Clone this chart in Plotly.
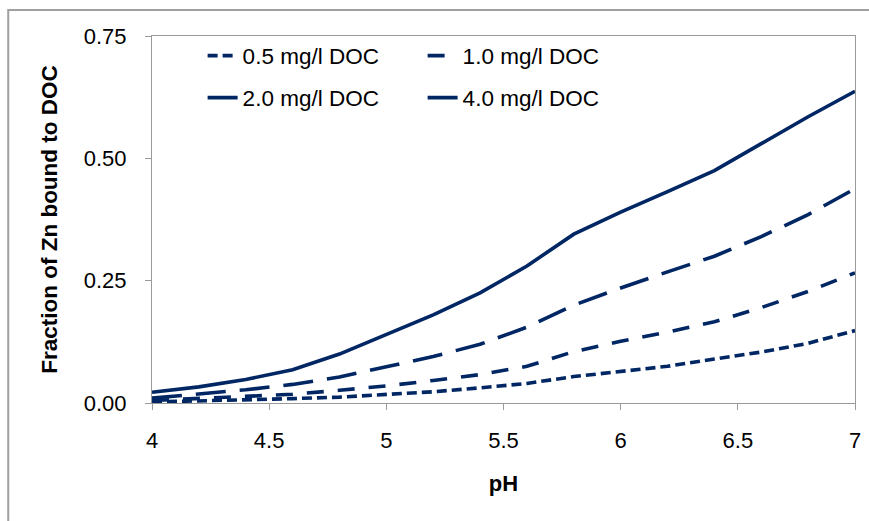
import plotly.graph_objects as go

ph = [4.0, 4.2, 4.4, 4.6, 4.8, 5.0, 5.2, 5.4, 5.6, 5.8, 6.0, 6.2, 6.4, 6.6, 6.8, 7.0]
doc_05 = [0.002, 0.004, 0.006, 0.009, 0.012, 0.017, 0.023, 0.031, 0.040, 0.054, 0.064, 0.075, 0.090, 0.104, 0.122, 0.148]
doc_10 = [0.005, 0.009, 0.013, 0.018, 0.026, 0.035, 0.046, 0.058, 0.075, 0.105, 0.126, 0.145, 0.166, 0.195, 0.228, 0.266]
doc_20 = [0.010, 0.018, 0.027, 0.038, 0.053, 0.074, 0.095, 0.120, 0.155, 0.200, 0.235, 0.268, 0.300, 0.340, 0.385, 0.438]
doc_40 = [0.022, 0.033, 0.048, 0.068, 0.100, 0.140, 0.180, 0.225, 0.280, 0.345, 0.390, 0.432, 0.475, 0.530, 0.585, 0.637]

names = ["0.5 mg/l DOC", "1.0 mg/l DOC", "2.0 mg/l DOC", "4.0 mg/l DOC"]
series = [doc_05, doc_10, doc_20, doc_40]
dashes = ["10px,5px", "17px,14px", "30px,14px", "solid"]
legends = ["legend", "legend", "legend2", "legend2"]
color = "#002663"

fig = go.Figure()
for n, s, d, lg in zip(names, series, dashes, legends):
    fig.add_trace(go.Scatter(x=ph, y=s, mode="lines", name=n, legend=lg,
                             line=dict(color=color, width=3.6, dash=d)))

font = "Liberation Sans, Arial, sans-serif"
leg_common = dict(orientation="h", xanchor="left", yanchor="middle",
                  entrywidthmode="pixels", entrywidth=175, traceorder="normal",
                  font=dict(size=22.5, family=font, color="black"),
                  bgcolor="rgba(0,0,0,0)")
fig.update_layout(
    width=869, height=521,
    margin=dict(l=152, r=8, t=36, b=118),
    paper_bgcolor="white", plot_bgcolor="white",
    font=dict(family=font, size=22, color="black"),
    showlegend=True,
    legend=dict(x=0.072, y=(403 - 56) / 367, **leg_common),
    legend2=dict(x=0.072, y=(403 - 98) / 367, **leg_common),
    xaxis=dict(range=[4, 7], tickvals=[4, 4.5, 5, 5.5, 6, 6.5, 7],
               ticktext=["4", "4.5", "5", "5.5", "6", "6.5", "7"],
               showgrid=False, zeroline=False, showline=True, linecolor="#9a9a9a",
               linewidth=1, mirror=True, ticks="outside", ticklen=6, tickcolor="#9a9a9a",
               ticklabelstandoff=12, tickfont=dict(size=22),
               title=dict(text="<b>pH</b>", font=dict(size=22), standoff=23)),
    yaxis=dict(range=[0, 0.75], tickvals=[0, 0.25, 0.5, 0.75],
               ticktext=["0.00", "0.25", "0.50", "0.75"],
               showgrid=False, zeroline=False, showline=True, linecolor="#9a9a9a",
               linewidth=1, mirror=True, ticks="outside", ticklen=6, tickcolor="#9a9a9a",
               ticklabelstandoff=14, tickfont=dict(size=22),
               title=dict(text="<b>Fraction of Zn bound to DOC</b>", font=dict(size=22.5), standoff=19)),
    shapes=[dict(type="rect", xref="paper", yref="paper",
                 x0=(7 - 152) / 709, x1=1.05, y0=-0.4, y1=(403 - 10) / 367,
                 line=dict(color="#a0a0a0", width=2), layer="below")],
)

fig.write_html("out.html")
